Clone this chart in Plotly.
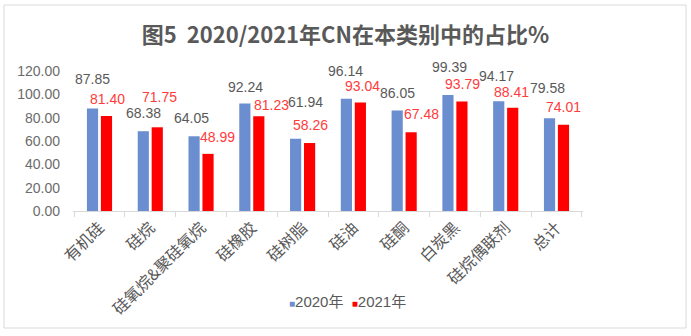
import plotly.graph_objects as go

categories = ["有机硅", "硅烷", "硅氧烷&聚硅氧烷", "硅橡胶", "硅树脂", "硅油", "硅酮", "白炭黑", "硅烷偶联剂", "总计"]
values_2020 = [87.85, 68.38, 64.05, 92.24, 61.94, 96.14, 86.05, 99.39, 94.17, 79.58]
values_2021 = [81.40, 71.75, 48.99, 81.23, 58.26, 93.04, 67.48, 93.79, 88.41, 74.01]
series_names = ["2020年", "2021年"]
y_ticks = [0, 20, 40, 60, 80, 100, 120]

# label offsets (pixels) relative to bar top / bar center, as in the reference
xs_2020 = [0, 0.5, -3, 1, 9.5, -1, 0.5, 1.5, -2, -2]
ys_2020 = [30, 18, 18, 16.5, 37, 28, 18, 28, 25, 30]
xs_2021 = [1, 1.8, 9, 13, 0.5, 2, 10, 0.5, -1, 0]
ys_2021 = [17.5, 30, 17, 11, 18, 16, 18, 18, 16, 18]

BLUE = "#6a8ecf"
RED = "#ff0000"
GRAY = "#595959"
RED_TXT = "#ff3b3b"
FONT = "Liberation Sans, Noto Sans CJK SC, sans-serif"

fig = go.Figure()
fig.add_trace(go.Bar(x=categories, y=values_2020, name=series_names[0],
                     marker=dict(color=BLUE, line=dict(width=0)), showlegend=False))
fig.add_trace(go.Bar(x=categories, y=values_2021, name=series_names[1],
                     marker=dict(color=RED, line=dict(width=0)), showlegend=False))

annotations = []
for i, c in enumerate(categories):
    annotations.append(dict(x=c, y=values_2020[i], xref="x", yref="y", text=f"{values_2020[i]:.2f}",
                            showarrow=False, xanchor="center", yanchor="middle",
                            xshift=-7 + xs_2020[i], yshift=ys_2020[i],
                            font=dict(size=14, color=GRAY, family=FONT)))
    annotations.append(dict(x=c, y=values_2021[i], xref="x", yref="y", text=f"{values_2021[i]:.2f}",
                            showarrow=False, xanchor="center", yanchor="middle",
                            xshift=7 + xs_2021[i], yshift=ys_2021[i],
                            font=dict(size=14, color=RED_TXT, family=FONT)))

L, R, T, B = 73, 108, 71, 125
W, H = 691, 336
pw, ph = W - L - R, H - T - B

# compact legend (square swatch + series name), as in the reference
sq = "<span style='font-size:10px;color:{c}'>■</span>"
legend_text = (sq.format(c=BLUE) + series_names[0] + "&nbsp;&nbsp;"
               + sq.format(c=RED) + series_names[1])
annotations.append(dict(x=(347 - L) / pw, y=(H - B - 301) / ph, xref="paper", yref="paper",
                        text=legend_text, showarrow=False, xanchor="center", yanchor="middle",
                        font=dict(size=15, color=GRAY, family=FONT)))

fig.update_layout(
    width=W, height=H,
    margin=dict(l=L, r=R, t=T, b=B, autoexpand=False),
    paper_bgcolor="white", plot_bgcolor="white",
    barmode="group", bargap=0.45, bargroupgap=0.2,
    font=dict(family=FONT, color=GRAY),
    showlegend=False,
    title=dict(text="<b>图5  2020/2021年CN在本类别中的占比%</b>",
               x=0.5, xref="container", xanchor="center",
               y=1 - 35 / H, yref="container", yanchor="middle",
               font=dict(size=22, color=GRAY, family="Noto Sans CJK SC, sans-serif")),
    xaxis=dict(type="category", showline=True, linecolor="#d9d9d9", linewidth=1,
               ticks="outside", tickson="boundaries", ticklen=5, tickcolor="#d9d9d9",
               tickangle=-45, tickfont=dict(size=16, color=GRAY, family="Noto Sans CJK SC, sans-serif"),
               showgrid=False, automargin=False),
    yaxis=dict(range=[0, 120], tickvals=y_ticks, tickformat=".2f", showgrid=False,
               zeroline=False, showline=False, ticks="", ticklabelstandoff=12,
               tickfont=dict(size=14, color="#6b6b6b", family=FONT), automargin=False),
    annotations=annotations,
    shapes=[dict(type="rect", xref="paper", yref="paper",
                 x0=(4 - L) / pw, x1=(686 - L) / pw,
                 y0=(H - B - 328) / ph, y1=(H - B - 5) / ph,
                 line=dict(color="#d9d9d9", width=1), fillcolor="rgba(0,0,0,0)", layer="below")],
)

fig.write_html("out.html")
